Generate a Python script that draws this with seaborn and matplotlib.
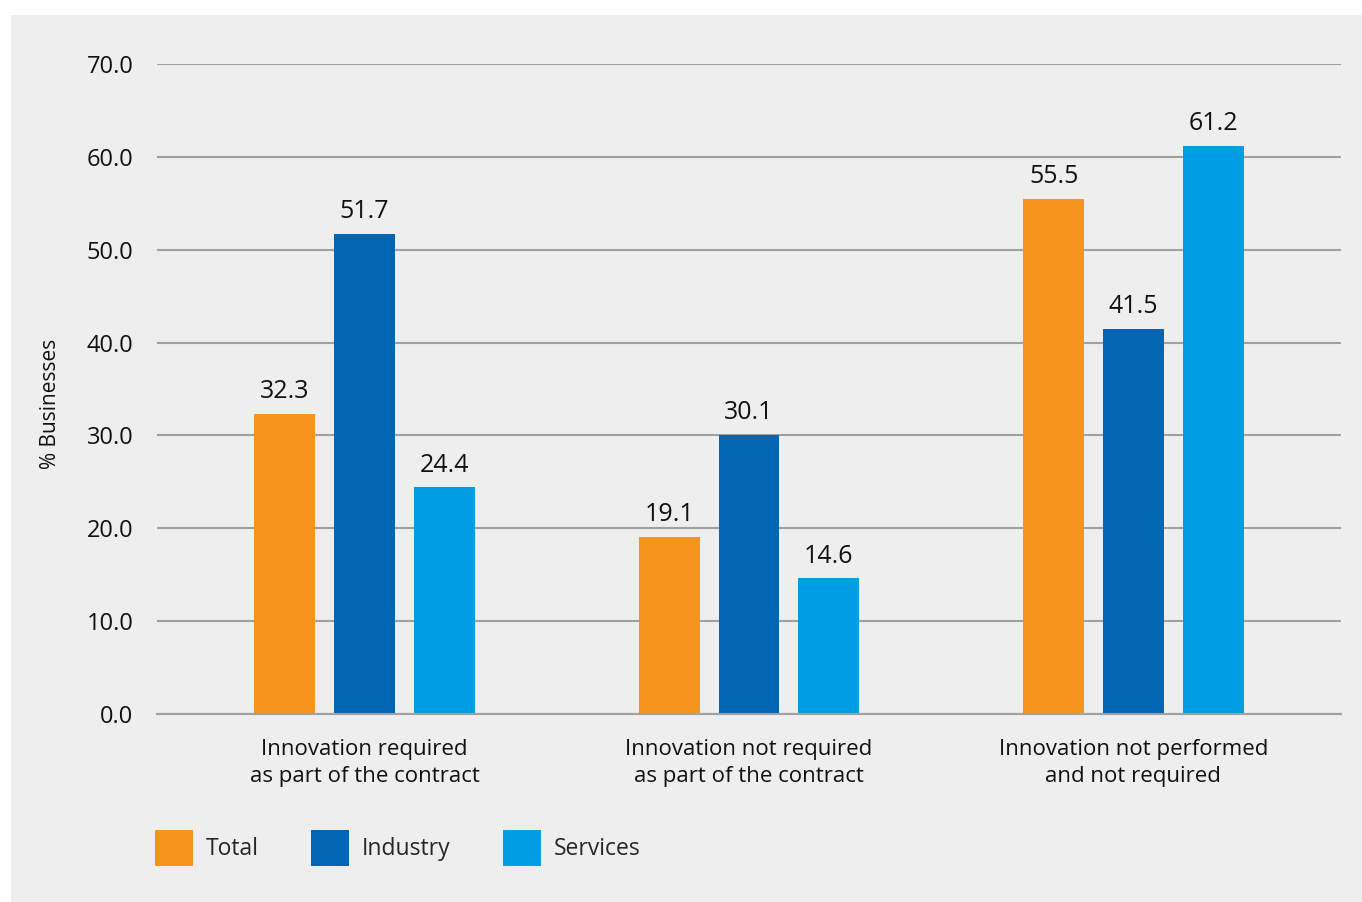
import matplotlib
matplotlib.use("Agg")
import matplotlib.pyplot as plt
from matplotlib.patches import Rectangle, Patch
import seaborn as sns
import pandas as pd

categories = ["Innovation required\nas part of the contract",
              "Innovation not required\nas part of the contract",
              "Innovation not performed\nand not required"]
series = ["Total", "Industry", "Services"]
total = [32.3, 19.1, 55.5]
industry = [51.7, 30.1, 41.5]
services = [24.4, 14.6, 61.2]
yticks = [0, 10, 20, 30, 40, 50, 60, 70]
colors = ["#F7941E", "#0066B3", "#009FE3"]

sns.set_theme(style="white")
plt.rcParams['font.family'] = ['Open Sans', 'DejaVu Sans']

rows = []
for s, vals in zip(series, [total, industry, services]):
    for c, v in zip(categories, vals):
        rows.append({"category": c, "series": s, "value": v})
df = pd.DataFrame(rows)

fig = plt.figure(figsize=(13.62, 9.02), dpi=100)
fig.patch.set_facecolor("white")
fig.patches.append(Rectangle((11/1362, 0), 1 - 11/1362, 1 - 15/902,
                             transform=fig.transFigure, facecolor="#EEEEEE",
                             edgecolor="none", zorder=-10))

ax = fig.add_axes([157/1362, 1 - 714/902, (1341-157)/1362, (714-64)/902])
ax.set_facecolor("none")
sns.barplot(data=df, x="category", y="value", hue="series", palette=colors,
            width=0.623, gap=0.24, ax=ax, legend=False, saturation=1,
            linewidth=0, edgecolor="none")

for cont in ax.containers:
    ax.bar_label(cont, fmt="%.1f", padding=7, fontsize=18, color="#111111")

ax.set_ylim(0, 70)
ax.set_xlim(-0.54, 2.54)
ax.set_yticks(yticks)
ax.set_yticklabels([f"{t:.1f}" for t in yticks])
ax.yaxis.grid(True, color="#A0A0A0", linewidth=1.5)
ax.set_axisbelow(True)
for sp in ["top", "right", "left"]:
    ax.spines[sp].set_visible(False)
ax.spines["bottom"].set_color("#A0A0A0")
ax.spines["bottom"].set_linewidth(1.5)
ax.tick_params(axis="both", length=0, colors="#111111")
ax.tick_params(axis="y", pad=17, labelsize=17)
ax.tick_params(axis="x", pad=18, labelsize=16)
for lbl in ax.get_xticklabels():
    lbl.set_linespacing(1.4)
ax.set_xlabel("")
ax.set_ylabel("")
fig.text(50/1362, 1 - 404/902, "% Businesses", rotation=90, ha="center",
         va="center", fontsize=15, color="#111111")

handles = [Patch(facecolor=c, edgecolor="none") for c in colors]
fig.legend(handles, series, loc="center left", bbox_to_anchor=(146/1362, 1 - 848/902),
           ncol=3, frameon=False, fontsize=16.5, handlelength=1.65, handleheight=2.1,
           handletextpad=0.55, columnspacing=2.3, borderaxespad=0)

fig.savefig("out.png", dpi=100, facecolor=fig.get_facecolor())
